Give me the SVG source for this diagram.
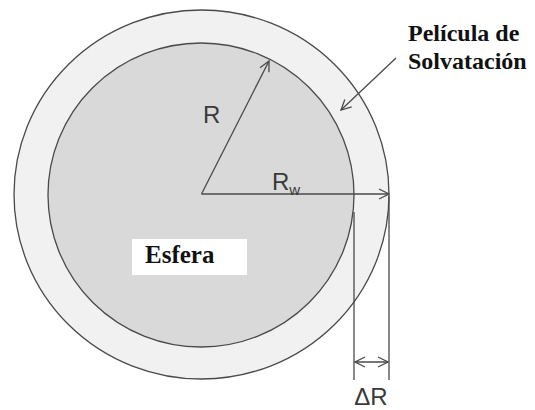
<svg xmlns="http://www.w3.org/2000/svg" width="535" height="410" viewBox="0 0 535 410">
<style>
.ln{stroke:#4a4a4a;stroke-width:1.3;fill:none}
.lbl{font-family:"Liberation Sans",Arial,sans-serif;fill:#3a3a3a}
.bold{font-family:"Liberation Serif","Times New Roman",serif;font-weight:bold;fill:#111}
</style>
<defs>
<marker id="v" viewBox="0 0 12 12" refX="11" refY="6" markerWidth="12" markerHeight="12" markerUnits="userSpaceOnUse" orient="auto-start-reverse">
<path d="M1,1 L11,6 L1,11" fill="none" stroke="#4a4a4a" stroke-width="1.3"/>
</marker>
</defs>
<rect width="535" height="410" fill="#fff"/>
<g id="pelicula">
<ellipse cx="201.5" cy="194.5" rx="187.5" ry="184.5" class="ln" style="fill:#f1f1f1"/>
</g>
<g id="esfera">
<ellipse cx="201" cy="195" rx="153" ry="152" class="ln" style="fill:#d9d9d9"/>
<rect x="132" y="239" width="115" height="36" fill="#fff"/>
<text x="145" y="263" class="bold" font-size="25">Esfera</text>
</g>
<g id="connectors">
<line x1="201.5" y1="194" x2="269" y2="61" class="ln" marker-end="url(#v)"/>
<line x1="201.5" y1="194" x2="389" y2="194" class="ln" marker-end="url(#v)"/>
<line x1="354" y1="212" x2="354" y2="380" class="ln"/>
<line x1="389" y1="196" x2="389" y2="380" class="ln"/>
<line x1="355" y1="362" x2="388" y2="362" class="ln" marker-start="url(#v)" marker-end="url(#v)"/>
<line x1="396" y1="58" x2="341" y2="110" class="ln" marker-end="url(#v)"/>
</g>
<g id="labels">
<text x="203" y="123" class="lbl" font-size="24">R</text>
<text x="272" y="190" class="lbl" font-size="24">R<tspan font-size="15" dy="5">w</tspan></text>
<text x="371" y="405" class="lbl" font-size="24" text-anchor="middle">ΔR</text>
<text x="408" y="41" class="bold" font-size="24">Película de</text>
<text x="408" y="69" class="bold" font-size="24">Solvatación</text>
</g>
</svg>
